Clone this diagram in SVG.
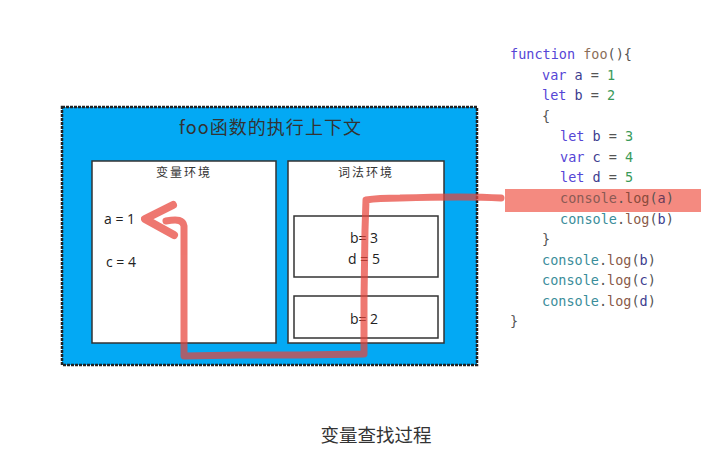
<svg xmlns="http://www.w3.org/2000/svg" width="722" height="455" viewBox="0 0 722 455">
<style>
.box{fill:#fff;stroke:#333;stroke-width:1.5}
.lbl{font-family:"Noto Sans CJK SC","Noto Sans",sans-serif;fill:#333}
.val{font-family:"Open Sans","Noto Sans",sans-serif;font-size:14px;fill:#222}
.code{font-family:"DejaVu Sans Mono","Liberation Mono",monospace;font-size:13.5px;fill:#555}
.kw{fill:#5546d6}.fn{fill:#8a6d58}.num{fill:#3a9a5a}.obj{fill:#3a8d9a}.mth{fill:#8a5a48}.id{fill:#3d3d8f}
.red{fill:none;stroke:#e8443a;stroke-linecap:round;stroke-linejoin:round}
</style>
<rect width="722" height="455" fill="#fff"/>
<g id="context">
<rect x="62" y="107" width="415" height="258" fill="#03a9f4" stroke="#222" stroke-width="2.5" stroke-dasharray="3 1"/>
<text class="lbl" x="270" y="134" font-size="18" text-anchor="middle" textLength="182">foo函数的执行上下文</text>
</g>
<g id="variable-env">
<rect class="box" x="92" y="161" width="184" height="182"/>
<text class="lbl" x="184" y="177" font-size="12" text-anchor="middle" letter-spacing="2">变量环境</text>
<text class="val" x="104" y="224">a = 1</text>
<text class="val" x="106" y="267">c = 4</text>
</g>
<g id="lexical-env">
<rect class="box" x="288" y="161" width="156" height="182"/>
<text class="lbl" x="366" y="177" font-size="12" text-anchor="middle" letter-spacing="2">词法环境</text>
</g>
<g id="block-scope">
<rect class="box" x="294" y="216" width="144" height="61"/>
<text class="val" x="364" y="243" text-anchor="middle">b= 3</text>
<text class="val" x="364" y="264" text-anchor="middle">d = 5</text>
</g>
<g id="function-scope">
<rect class="box" x="294" y="296" width="144" height="42"/>
<text class="val" x="364" y="324" text-anchor="middle">b= 2</text>
</g>
<g id="code">
<rect x="505" y="189" width="196" height="23" fill="#f48a80"/>
<text class="code" x="510" y="59"><tspan class="kw">function</tspan> <tspan class="fn">foo</tspan>(){</text>
<text class="code" x="542" y="80"><tspan class="kw">var</tspan> <tspan class="id">a</tspan> = <tspan class="num">1</tspan></text>
<text class="code" x="542" y="100"><tspan class="kw">let</tspan> <tspan class="id">b</tspan> = <tspan class="num">2</tspan></text>
<text class="code" x="542" y="121">{</text>
<text class="code" x="560" y="141"><tspan class="kw">let</tspan> <tspan class="id">b</tspan> = <tspan class="num">3</tspan></text>
<text class="code" x="560" y="162"><tspan class="kw">var</tspan> <tspan class="id">c</tspan> = <tspan class="num">4</tspan></text>
<text class="code" x="560" y="182"><tspan class="kw">let</tspan> <tspan class="id">d</tspan> = <tspan class="num">5</tspan></text>
<text class="code" x="560" y="203" fill="#7a4a44"><tspan fill="#8a5a54">console</tspan>.<tspan fill="#8a4a3c">log</tspan>(<tspan fill="#6a3a5a">a</tspan>)</text>
<text class="code" x="560" y="224"><tspan class="obj">console</tspan>.<tspan class="mth">log</tspan>(<tspan class="id">b</tspan>)</text>
<text class="code" x="542" y="244">}</text>
<text class="code" x="542" y="265"><tspan class="obj">console</tspan>.<tspan class="mth">log</tspan>(<tspan class="id">b</tspan>)</text>
<text class="code" x="542" y="285"><tspan class="obj">console</tspan>.<tspan class="mth">log</tspan>(<tspan class="id">c</tspan>)</text>
<text class="code" x="542" y="306"><tspan class="obj">console</tspan>.<tspan class="mth">log</tspan>(<tspan class="id">d</tspan>)</text>
<text class="code" x="510" y="326">}</text>
</g>
<g id="connectors" opacity="0.72">
<path class="red" stroke-width="7" d="M501,198 C470,196 430,197 400,198 C385,198 372,199 366,200 L365,230 L364,300 L364,354 L300,355 L240,355 L184,356 L184,300 L184,240 L184,226 C183,220 178,219 166,221"/>
<path class="red" stroke-width="8" d="M173,205 L145,219 L174,235"/>
</g>
<text class="lbl" x="376" y="442" font-size="18.5" text-anchor="middle" fill="#444">变量查找过程</text>
</svg>
